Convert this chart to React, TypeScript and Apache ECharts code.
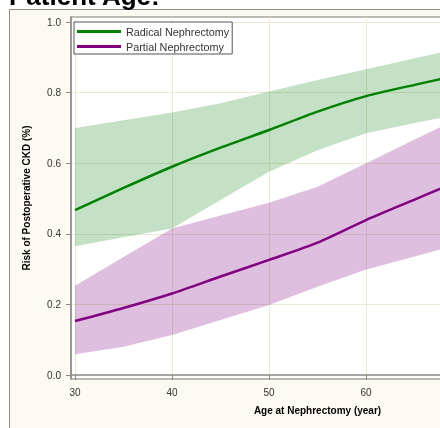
import React, { useEffect, useRef } from "react";
import * as echarts from "echarts";

// Age at nephrectomy (years)
const ages = [30, 35, 40, 45, 50, 55, 60, 65, 68];
// Radical nephrectomy: predicted risk and 95% band
const radicalRisk = [0.467, 0.53, 0.59, 0.644, 0.694, 0.746, 0.79, 0.822, 0.84];
const radicalUpper = [0.7, 0.722, 0.744, 0.77, 0.803, 0.836, 0.866, 0.897, 0.915];
const radicalLower = [0.365, 0.39, 0.415, 0.496, 0.576, 0.637, 0.685, 0.714, 0.73];
// Partial nephrectomy: predicted risk and 95% band
const partialRisk = [0.153, 0.19, 0.231, 0.279, 0.326, 0.375, 0.439, 0.497, 0.532];
const partialUpper = [0.253, 0.334, 0.415, 0.452, 0.488, 0.533, 0.6, 0.667, 0.707];
const partialLower = [0.059, 0.08, 0.113, 0.156, 0.198, 0.25, 0.299, 0.336, 0.358];

const xTicks = [30, 40, 50, 60];
const yTicks = [0, 0.2, 0.4, 0.6, 0.8, 1.0];

const seriesNames = ["Radical Nephrectomy", "Partial Nephrectomy"];
const titleText = "Patient Age:";
const xTitle = "Age at Nephrectomy (year)";
const yTitle = "Risk of Postoperative CKD (%)";

const FONT = "'Liberation Sans', Arial, sans-serif";
const CHART_W = 600;
const GREEN_BAND = "#c5e1c5";
const PURPLE_BAND = "#dfbfdf";

const blendCss = `
#chart-host path[fill="${GREEN_BAND}"], #chart-host path[fill="${PURPLE_BAND}"] { mix-blend-mode: multiply; }
`;

export default function App() {
  const ref = useRef<HTMLDivElement>(null);

  useEffect(() => {
    if (!ref.current) return;
    document.body.style.margin = "0";
    const chart = echarts.init(ref.current, null, { renderer: "svg" });

    const pairs = (ys: number[]) => ages.map((a, i) => [a, ys[i]]);

    const band = (upper: number[], lower: number[], fill: string, z: number) => ({
      type: "custom",
      silent: true,
      z,
      data: pairs(lower).slice(0, 1),
      renderItem: (_params: any, api: any) => {
        const top = ages.map((a, i) => api.coord([a, upper[i]]));
        const bottom = ages.map((a, i) => api.coord([a, lower[i]])).reverse();
        return {
          type: "polygon",
          shape: { points: top.concat(bottom) },
          style: { fill, blend: "multiply" },
        };
      },
    });

    chart.setOption({
      animation: false,
      backgroundColor: "#ffffff",
      textStyle: { fontFamily: FONT },
      graphic: [
        {
          type: "rect",
          z: -10,
          shape: { x: 9.5, y: 9.5, width: 700, height: 600 },
          style: { fill: "#fcfaf3", stroke: "#8e8c87", lineWidth: 1 },
        },
        {
          type: "text",
          x: 9,
          y: -4,
          style: {
            text: titleText,
            fontFamily: FONT,
            fontWeight: "bold",
            fontSize: 26,
            fill: "#000",
            align: "left",
            verticalAlign: "middle",
          },
        },
      ],
      legend: {
        data: seriesNames,
        orient: "vertical",
        left: 74,
        top: 22,
        icon: "rect",
        itemWidth: 44,
        itemHeight: 3,
        itemGap: 4,
        padding: [4, 3, 2, 3],
        backgroundColor: "#ffffff",
        borderColor: "#555555",
        borderWidth: 1,
        borderRadius: 0,
        textStyle: { fontFamily: FONT, fontSize: 10.8, color: "#333" },
      },
      grid: {
        left: 71,
        top: 17,
        right: CHART_W - 564,
        bottom: 49,
        show: true,
        backgroundColor: "#ffffff",
        borderColor: "#a8a59d",
        borderWidth: 1.5,
      },
      xAxis: {
        type: "value",
        min: 29.588,
        max: 80.4,
        name: xTitle,
        nameLocation: "middle",
        nameGap: 26,
        nameTextStyle: { fontFamily: FONT, fontWeight: "bold", fontSize: 10, color: "#000" },
        axisLine: { show: true, lineStyle: { color: "#8a8a8a", width: 1.5 } },
        axisTick: { show: true, customValues: xTicks, length: 5, lineStyle: { color: "#8a8a8a" } },
        axisLabel: { customValues: xTicks, fontSize: 10, color: "#333", margin: 8, fontFamily: FONT },
        splitLine: { show: true, lineStyle: { color: "#ecead6", width: 1 } },
      },
      yAxis: {
        type: "value",
        min: -0.0113,
        max: 1.0142,
        name: yTitle,
        nameLocation: "middle",
        nameGap: 40,
        nameTextStyle: { fontFamily: FONT, fontWeight: "bold", fontSize: 10, color: "#000" },
        axisLine: { show: true, lineStyle: { color: "#8a8a8a", width: 1.5 } },
        axisTick: { show: true, customValues: yTicks, length: 5, lineStyle: { color: "#8a8a8a" } },
        axisLabel: {
          customValues: yTicks,
          fontSize: 10,
          color: "#333",
          margin: 10,
          fontFamily: FONT,
          formatter: (v: number) => v.toFixed(1),
        },
        splitLine: { show: true, lineStyle: { color: "#ecead6", width: 1 } },
      },
      series: [
        band(radicalUpper, radicalLower, GREEN_BAND, 1),
        band(partialUpper, partialLower, PURPLE_BAND, 2),
        {
          type: "line",
          name: seriesNames[0],
          data: pairs(radicalRisk),
          symbol: "none",
          smooth: 0.25,
          z: 5,
          itemStyle: { color: "#008000" },
          lineStyle: { color: "#008000", width: 2.5 },
        },
        {
          type: "line",
          name: seriesNames[1],
          data: pairs(partialRisk),
          symbol: "none",
          smooth: 0.25,
          z: 5,
          itemStyle: { color: "#800080" },
          lineStyle: { color: "#800080", width: 2.5 },
        },
      ],
    });

    return () => chart.dispose();
  }, []);

  return (
    <div
      id="chart-host"
      style={{ position: "fixed", left: 0, top: 0, width: 440, height: 428, overflow: "hidden" }}
    >
      <style>{blendCss}</style>
      <div ref={ref} style={{ width: CHART_W, height: 428 }} />
    </div>
  );
}
